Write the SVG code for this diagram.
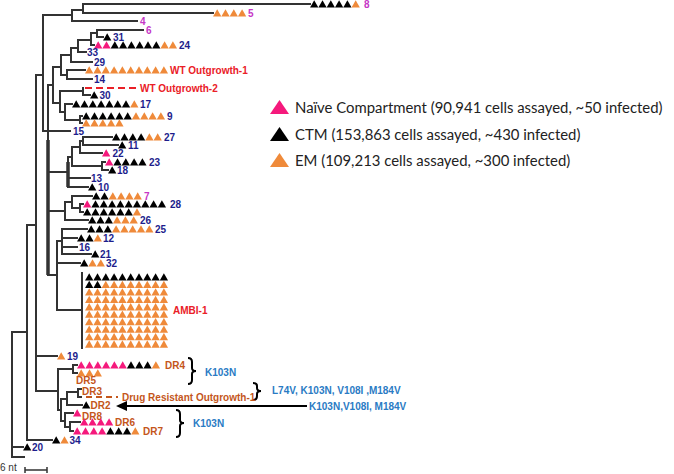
<svg xmlns="http://www.w3.org/2000/svg" xmlns:xlink="http://www.w3.org/1999/xlink" width="674" height="474" viewBox="0 0 674 474">
<style>
.br{stroke:#333;stroke-width:2;fill:none;stroke-linecap:square}
.thk{stroke:#333;stroke-width:3.5;fill:none}
.p{fill:#f5197c}.k{fill:#000}.o{fill:#ef8a3a}
.lb{font-family:"Liberation Sans",Arial,sans-serif;font-weight:bold;font-size:10px}
.n{fill:#1d1d8c}.m{fill:#c636c6}.r{fill:#ea2027}.d{fill:#c4561b}.b{fill:#2a7bc4}
.lg{font-family:Lato,"Liberation Sans",sans-serif;font-size:14.9px;fill:#222}
.sc{font-family:"Liberation Sans",Arial,sans-serif;font-size:10px;fill:#333}
</style>
<defs>
<path id="t" d="M0,-3.7L4.15,3.6H-4.15Z"/>
<path id="T" d="M0,-7L9.5,7H-9.5Z"/>
<g id="row10"><use href="#t" x="0"/><use href="#t" x="8.3"/><use href="#t" x="16.6"/><use href="#t" x="24.9"/><use href="#t" x="33.2"/><use href="#t" x="41.5"/><use href="#t" x="49.8"/><use href="#t" x="58.1"/><use href="#t" x="66.4"/><use href="#t" x="74.7"/></g>
</defs>
<rect width="674" height="474" fill="#fff"/>
<g id="connectors">
<path class="br" d="M12,332V457M12,332H27M12,447H23M12,457H24
M27,225V440M27,225H36M27,440H52
M36,75V391M36,75H43M36,356H57M36,391H58
M43,15V131M43,15H72M43,131H70
M72,10V21M72,10H83M72,21H137
M83,4V13M83,4H310M83,13H213
M48,85V275M48,85H53M48,172H68M48,211H65M48,275H57
M53,67V103M53,67H61M53,103H60
M61,55V75M61,55H71M61,75H67
M71,48V62M71,48H78M71,62H92
M78,40V52M78,40H91M78,52H86
M91,33V45M91,33H97M91,45H94
M97,30V37M97,30H143M97,37H103
M67,70V79M67,70H85M67,79H92
M60,91V112M60,91H83M60,112H65
M83,88V95M83,95H90
M65,104V120M65,104H72M65,120H80
M80,116V123M80,116H82M80,123H82
M83,137V145M83,137H112M83,145H118
M80,141V153M80,141H83M80,153H102
M102,162V170M102,162H105M102,170H108
M72,147V166M72,147H80M72,166H102
M68,157V187M68,157H72M68,178H90M68,187H88
M80,204V212M80,204H83M80,212H83
M72,196V208M72,196H92M72,208H80
M65,202V220M65,202H72M65,220H88
M62,229V254M62,229H87M62,238H77M62,247H77M62,254H91
M57,241V310M57,241H62M57,263H80M57,310H82
M82,273V348
M58,369V410M58,369H73M58,410H61
M73,365V373M73,365H77M73,373H77
M61,399V421M61,399H67M61,421H65
M67,392V405M67,392H78M67,405H82
M78,389V397M78,389H81M78,397H81
M65,413V427M65,413H73M65,427H70
M70,422V431M70,422H80M70,431H73"/>
<path class="thk" d="M48,140V275M68,162V187"/>
<path d="M85,88H137" stroke="#ea2027" stroke-width="2" stroke-dasharray="7 4"/>
<path d="M86,397H118" stroke="#c4561b" stroke-width="2" stroke-dasharray="6 4"/>
<path d="M126,406H307" stroke="#000" stroke-width="2"/>
<path d="M116,406L127,401V411Z" fill="#000"/>
<path d="M188,358Q192,358 192,362V368Q192,371 196,371Q192,371 192,374V380Q192,384 188,384M253,383Q257,383 257,386V388Q257,391 261,391Q257,391 257,394V396Q257,400 253,400M176,410Q180,410 180,414V420Q180,423 184,423Q180,423 180,426V433Q180,437 176,437" stroke="#000" stroke-width="2" fill="none"/>
<path d="M25,470H47M25,467V473M47,467V473" stroke="#333" stroke-width="1.5"/>
</g>
<g id="leaf-8"><use href="#t" class="k" x="314.2" y="4"/><use href="#t" class="k" x="322.5" y="4"/><use href="#t" class="k" x="330.8" y="4"/><use href="#t" class="k" x="339.1" y="4"/><use href="#t" class="k" x="347.4" y="4"/><use href="#t" class="o" x="355.7" y="4"/><text class="lb m" x="364" y="7.6">8</text></g>
<g id="leaf-5"><use href="#t" class="o" x="217.2" y="13"/><use href="#t" class="o" x="225.5" y="13"/><use href="#t" class="o" x="233.8" y="13"/><use href="#t" class="o" x="242.1" y="13"/><text class="lb m" x="248" y="16.6">5</text></g>
<g id="leaf-4"><text class="lb m" x="140" y="24.6">4</text></g>
<g id="leaf-6"><text class="lb m" x="146" y="33.6">6</text></g>
<g id="leaf-31"><use href="#t" class="k" x="107.2" y="37"/><text class="lb n" x="113" y="40.6">31</text></g>
<g id="leaf-24"><use href="#t" class="p" x="98.2" y="45"/><use href="#t" class="p" x="106.5" y="45"/><use href="#t" class="k" x="114.8" y="45"/><use href="#t" class="k" x="123.1" y="45"/><use href="#t" class="k" x="131.4" y="45"/><use href="#t" class="k" x="139.7" y="45"/><use href="#t" class="k" x="148" y="45"/><use href="#t" class="k" x="156.3" y="45"/><use href="#t" class="o" x="164.6" y="45"/><use href="#t" class="o" x="172.9" y="45"/><text class="lb n" x="179" y="48.6">24</text></g>
<g id="leaf-33"><text class="lb n" x="87" y="55.6">33</text></g>
<g id="leaf-29"><text class="lb n" x="94" y="65.6">29</text></g>
<g id="leaf-wt1"><use href="#row10" class="o" x="89.2" y="70"/><text class="lb r" x="170" y="73.6">WT Outgrowth-1</text></g>
<g id="leaf-14"><text class="lb n" x="94" y="82.6">14</text></g>
<g id="leaf-wt2"><text class="lb r" x="140" y="91.6">WT Outgrowth-2</text></g>
<g id="leaf-30"><use href="#t" class="k" x="94.2" y="95"/><text class="lb n" x="99.5" y="98.6">30</text></g>
<g id="leaf-17"><use href="#t" class="k" x="76.2" y="104"/><use href="#t" class="k" x="84.5" y="104"/><use href="#t" class="k" x="92.8" y="104"/><use href="#t" class="k" x="101.1" y="104"/><use href="#t" class="k" x="109.4" y="104"/><use href="#t" class="k" x="117.7" y="104"/><use href="#t" class="k" x="126" y="104"/><use href="#t" class="o" x="134.3" y="104"/><text class="lb n" x="140" y="107.6">17</text></g>
<g id="leaf-9"><use href="#t" class="k" x="86.2" y="116"/><use href="#t" class="k" x="94.5" y="116"/><use href="#t" class="k" x="102.8" y="116"/><use href="#t" class="k" x="111.1" y="116"/><use href="#t" class="k" x="119.4" y="116"/><use href="#t" class="k" x="127.7" y="116"/><use href="#t" class="o" x="136" y="116"/><use href="#t" class="o" x="144.3" y="116"/><use href="#t" class="o" x="152.6" y="116"/><use href="#t" class="o" x="160.9" y="116"/><text class="lb n" x="167" y="119.6">9</text></g>
<g id="leaf-9b"><use href="#t" class="o" x="86.2" y="123"/><use href="#t" class="o" x="94.5" y="123"/><use href="#t" class="o" x="102.8" y="123"/><use href="#t" class="o" x="111.1" y="123"/><use href="#t" class="o" x="119.4" y="123"/></g>
<g id="leaf-15"><text class="lb n" x="73" y="134.6">15</text></g>
<g id="leaf-27"><use href="#t" class="k" x="116.2" y="137"/><use href="#t" class="k" x="124.5" y="137"/><use href="#t" class="k" x="132.8" y="137"/><use href="#t" class="k" x="141.1" y="137"/><use href="#t" class="o" x="149.4" y="137"/><use href="#t" class="o" x="157.7" y="137"/><text class="lb n" x="164" y="140.6">27</text></g>
<g id="leaf-11"><use href="#t" class="k" x="122.2" y="145"/><text class="lb n" x="128" y="148.6">11</text></g>
<g id="leaf-22"><use href="#t" class="p" x="106.2" y="153"/><text class="lb n" x="112.5" y="156.6">22</text></g>
<g id="leaf-23"><use href="#t" class="p" x="109.2" y="162"/><use href="#t" class="k" x="117.5" y="162"/><use href="#t" class="k" x="125.8" y="162"/><use href="#t" class="k" x="134.1" y="162"/><use href="#t" class="k" x="142.4" y="162"/><text class="lb n" x="149" y="165.6">23</text></g>
<g id="leaf-18"><use href="#t" class="k" x="112.2" y="170"/><text class="lb n" x="117" y="173.6">18</text></g>
<g id="leaf-13"><text class="lb n" x="91" y="181.6">13</text></g>
<g id="leaf-10"><use href="#t" class="k" x="92.2" y="187"/><text class="lb n" x="98" y="190.6">10</text></g>
<g id="leaf-7"><use href="#t" class="k" x="96.2" y="196"/><use href="#t" class="k" x="104.5" y="196"/><use href="#t" class="o" x="112.8" y="196"/><use href="#t" class="o" x="121.1" y="196"/><use href="#t" class="o" x="129.4" y="196"/><use href="#t" class="o" x="137.7" y="196"/><text class="lb m" x="144" y="199.6">7</text></g>
<g id="leaf-28"><use href="#t" class="p" x="87.2" y="204"/><use href="#t" class="k" x="95.5" y="204"/><use href="#t" class="k" x="103.8" y="204"/><use href="#t" class="k" x="112.1" y="204"/><use href="#t" class="k" x="120.4" y="204"/><use href="#t" class="k" x="128.7" y="204"/><use href="#t" class="k" x="137" y="204"/><use href="#t" class="k" x="145.3" y="204"/><use href="#t" class="k" x="153.6" y="204"/><use href="#t" class="k" x="161.9" y="204"/><text class="lb n" x="170" y="207.6">28</text></g>
<g id="leaf-28b"><use href="#t" class="k" x="87.2" y="212"/><use href="#t" class="k" x="95.5" y="212"/><use href="#t" class="k" x="103.8" y="212"/><use href="#t" class="k" x="112.1" y="212"/><use href="#t" class="k" x="120.4" y="212"/><use href="#t" class="k" x="128.7" y="212"/><use href="#t" class="o" x="137" y="212"/></g>
<g id="leaf-26"><use href="#t" class="k" x="92.2" y="220"/><use href="#t" class="k" x="100.5" y="220"/><use href="#t" class="k" x="108.8" y="220"/><use href="#t" class="o" x="117.1" y="220"/><use href="#t" class="o" x="125.4" y="220"/><use href="#t" class="o" x="133.7" y="220"/><text class="lb n" x="140" y="223.6">26</text></g>
<g id="leaf-25"><use href="#t" class="k" x="91.2" y="229"/><use href="#t" class="k" x="99.5" y="229"/><use href="#t" class="k" x="107.8" y="229"/><use href="#t" class="o" x="116.1" y="229"/><use href="#t" class="o" x="124.4" y="229"/><use href="#t" class="o" x="132.7" y="229"/><use href="#t" class="o" x="141" y="229"/><use href="#t" class="o" x="149.3" y="229"/><text class="lb n" x="155" y="232.6">25</text></g>
<g id="leaf-12"><use href="#t" class="k" x="81.2" y="238"/><use href="#t" class="k" x="89.5" y="238"/><use href="#t" class="o" x="97.8" y="238"/><text class="lb n" x="103" y="241.6">12</text></g>
<g id="leaf-16"><text class="lb n" x="79" y="250.6">16</text></g>
<g id="leaf-21"><use href="#t" class="k" x="95.2" y="254"/><text class="lb n" x="100" y="257.6">21</text></g>
<g id="leaf-32"><use href="#t" class="k" x="84.2" y="263"/><use href="#t" class="o" x="92.5" y="263"/><use href="#t" class="o" x="100.8" y="263"/><text class="lb n" x="106" y="266.6">32</text></g>
<g id="leaf-ambi1">
<use href="#row10" class="k" x="89.2" y="277"/>
<use href="#t" class="k" x="89.2" y="284.45"/><use href="#t" class="k" x="97.5" y="284.45"/><use href="#t" class="o" x="105.8" y="284.45"/><use href="#t" class="o" x="114.1" y="284.45"/><use href="#t" class="o" x="122.4" y="284.45"/><use href="#t" class="o" x="130.7" y="284.45"/><use href="#t" class="o" x="139" y="284.45"/><use href="#t" class="o" x="147.3" y="284.45"/><use href="#t" class="o" x="155.6" y="284.45"/><use href="#t" class="o" x="163.9" y="284.45"/>
<use href="#row10" class="o" x="89.2" y="291.9"/><use href="#row10" class="o" x="89.2" y="299.35"/><use href="#row10" class="o" x="89.2" y="306.8"/><use href="#row10" class="o" x="89.2" y="314.25"/><use href="#row10" class="o" x="89.2" y="321.7"/><use href="#row10" class="o" x="89.2" y="329.15"/><use href="#row10" class="o" x="89.2" y="336.6"/><use href="#row10" class="o" x="89.2" y="344.05"/>
<text class="lb r" x="173" y="313.6">AMBI-1</text></g>
<g id="leaf-19"><use href="#t" class="o" x="61.2" y="356"/><text class="lb n" x="67" y="359.6">19</text></g>
<g id="leaf-dr4"><use href="#t" class="p" x="81.2" y="365"/><use href="#t" class="p" x="89.5" y="365"/><use href="#t" class="p" x="97.8" y="365"/><use href="#t" class="p" x="106.1" y="365"/><use href="#t" class="p" x="114.4" y="365"/><use href="#t" class="p" x="122.7" y="365"/><use href="#t" class="k" x="131" y="365"/><use href="#t" class="k" x="139.3" y="365"/><use href="#t" class="k" x="147.6" y="365"/><use href="#t" class="o" x="155.9" y="365"/><text class="lb d" x="165" y="368.6">DR4</text></g>
<g id="leaf-dr5"><use href="#t" class="o" x="81.2" y="373"/><use href="#t" class="o" x="89.5" y="373"/><use href="#t" class="o" x="97.8" y="373"/><text class="lb d" x="76" y="383.5">DR5</text></g>
<g id="leaf-dr3"><text class="lb d" x="82" y="395">DR3</text></g>
<g id="leaf-dro1"><text class="lb d" x="122" y="400.6">Drug Resistant Outgrowth-1</text></g>
<g id="leaf-dr2"><use href="#t" class="k" x="86.2" y="405"/><text class="lb d" x="90.5" y="408.8">DR2</text></g>
<g id="leaf-dr8"><use href="#t" class="p" x="77.2" y="413"/><text class="lb d" x="82" y="420.2">DR8</text></g>
<g id="leaf-dr6"><use href="#t" class="p" x="84.2" y="422"/><use href="#t" class="p" x="92.5" y="422"/><use href="#t" class="p" x="100.8" y="422"/><use href="#t" class="p" x="109.1" y="422"/><text class="lb d" x="115" y="425.6">DR6</text></g>
<g id="leaf-dr7"><use href="#t" class="p" x="77.2" y="431"/><use href="#t" class="p" x="85.5" y="431"/><use href="#t" class="p" x="93.8" y="431"/><use href="#t" class="p" x="102.1" y="431"/><use href="#t" class="k" x="110.4" y="431"/><use href="#t" class="k" x="118.7" y="431"/><use href="#t" class="k" x="127" y="431"/><use href="#t" class="o" x="135.3" y="431"/><text class="lb d" x="143" y="434.6">DR7</text></g>
<g id="leaf-34"><use href="#t" class="k" x="56.2" y="440"/><use href="#t" class="o" x="64.5" y="440"/><text class="lb n" x="69.5" y="443.6">34</text></g>
<g id="leaf-20"><use href="#t" class="k" x="27.2" y="447"/><text class="lb n" x="32" y="450.6">20</text></g>
<g id="mut-1"><text class="lb b" x="205" y="375.5">K103N</text></g>
<g id="mut-2"><text class="lb b" x="272" y="394">L74V, K103N, V108I ,M184V</text></g>
<g id="mut-3"><text class="lb b" x="309" y="410">K103N,V108I, M184V</text></g>
<g id="mut-4"><text class="lb b" x="193" y="427">K103N</text></g>
<g id="legend-naive"><use href="#T" class="p" x="279.5" y="107"/><text class="lg" x="295" y="113">Naïve Compartment (90,941 cells assayed, ~50 infected)</text></g>
<g id="legend-ctm"><use href="#T" class="k" x="279.5" y="134"/><text class="lg" x="295" y="140">CTM (153,863 cells assayed, ~430 infected)</text></g>
<g id="legend-em"><use href="#T" class="o" x="279.5" y="160"/><text class="lg" x="295" y="166">EM (109,213 cells assayed, ~300 infected)</text></g>
<g id="scale"><text class="sc" x="0" y="471">6 nt</text></g>
</svg>
